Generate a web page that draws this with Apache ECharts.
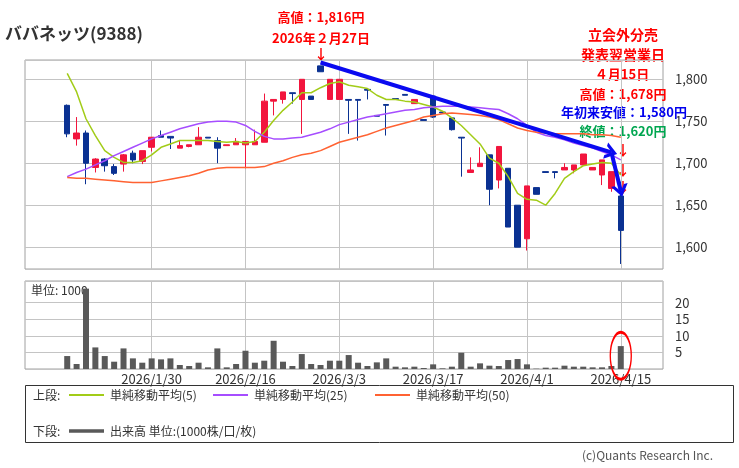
<!DOCTYPE html>
<html lang="ja">
<head>
<meta charset="utf-8">
<title>ババネッツ(9388)</title>
<script src="https://cdn.jsdelivr.net/npm/echarts@6/dist/echarts.min.js"></script>
<style>
  html, body { margin: 0; padding: 0; background: #fff; }
  #chart { width: 739px; height: 468px; }
</style>
</head>
<body>
<div id="chart"></div>
<script>
// 営業日
const dates = [
  '2026/1/19', '2026/1/20', '2026/1/21', '2026/1/22', '2026/1/23', '2026/1/26', '2026/1/27', '2026/1/28', '2026/1/29', '2026/1/30',
  '2026/2/2', '2026/2/3', '2026/2/4', '2026/2/5', '2026/2/6', '2026/2/9', '2026/2/10', '2026/2/12', '2026/2/13', '2026/2/16',
  '2026/2/17', '2026/2/18', '2026/2/19', '2026/2/20', '2026/2/24', '2026/2/25', '2026/2/26', '2026/2/27', '2026/3/2', '2026/3/3',
  '2026/3/4', '2026/3/5', '2026/3/6', '2026/3/9', '2026/3/10', '2026/3/11', '2026/3/12', '2026/3/13', '2026/3/16', '2026/3/17',
  '2026/3/18', '2026/3/19', '2026/3/23', '2026/3/24', '2026/3/25', '2026/3/26', '2026/3/27', '2026/3/30', '2026/3/31', '2026/4/1',
  '2026/4/2', '2026/4/3', '2026/4/6', '2026/4/7', '2026/4/8', '2026/4/9', '2026/4/10', '2026/4/13', '2026/4/14', '2026/4/15'
]
// 左右の空き（データなし）
const padBefore = ['2026/1/13', '2026/1/14', '2026/1/15', '2026/1/16']
const padAfter = ['2026/4/16', '2026/4/17', '2026/4/20', '2026/4/21']

// 四本値 [始値, 終値, 安値, 高値]
const ohlc = [
  [1769, 1735, 1731, 1770], [1729, 1736, 1721, 1755], [1736, 1700, 1675, 1739], [1695, 1705, 1689, 1706], [1705, 1697, 1690, 1706],
  [1696, 1688, 1686, 1699], [1699, 1710, 1690, 1711], [1712, 1704, 1700, 1715], [1702, 1715, 1699, 1715], [1719, 1731, 1714, 1731],
  [1733, 1731, 1731, 1739], [1732, 1730, 1717, 1732], [1718, 1721, 1718, 1727], [1720, 1722, 1719, 1722], [1722, 1731, 1722, 1743],
  [1731, 1730, 1730, 1731], [1727, 1718, 1700, 1731], [1721, 1722, 1721, 1722], [1722, 1726, 1722, 1730], [1722, 1726, 1694, 1726],
  [1722, 1726, 1722, 1740], [1725, 1774, 1725, 1783], [1774, 1776, 1757, 1776], [1776, 1785, 1771, 1785], [1784, 1783, 1771, 1784],
  [1776, 1800, 1735, 1800], [1780, 1776, 1776, 1780], [1816, 1809, 1809, 1816], [1776, 1800, 1776, 1800], [1776, 1800, 1776, 1800],
  [1776, 1775, 1735, 1776], [1776, 1775, 1727, 1776], [1788, 1787, 1776, 1788], [1757, 1756, 1756, 1757], [1770, 1769, 1733, 1770],
  [1777, 1776, 1776, 1777], [1782, 1781, 1781, 1782], [1771, 1776, 1771, 1776], [1752, 1751, 1751, 1752], [1780, 1755, 1754, 1780],
  [1761, 1760, 1760, 1761], [1754, 1740, 1739, 1755], [1731, 1730, 1684, 1731], [1689, 1692, 1689, 1707], [1696, 1700, 1696, 1719],
  [1710, 1669, 1650, 1710], [1680, 1720, 1670, 1720], [1694, 1624, 1624, 1694], [1650, 1600, 1600, 1650], [1610, 1673, 1596, 1673],
  [1671, 1663, 1663, 1671], [1690, 1689, 1689, 1690], [1690, 1689, 1682, 1690], [1692, 1695, 1692, 1700], [1692, 1698, 1688, 1698],
  [1698, 1711, 1698, 1711], [1692, 1695, 1692, 1695], [1686, 1704, 1674, 1704], [1670, 1690, 1666, 1690], [1661, 1620, 1580, 1678]
]

// 単純移動平均
const sma5 = [
  1807, 1785, 1753, 1733, 1715, 1707, 1701, 1701, 1703, 1710,
  1719, 1723, 1727, 1727, 1727, 1727, 1726, 1725, 1726, 1724,
  1726, 1737, 1751, 1763, 1773, 1784, 1784, 1790, 1795, 1797,
  1793, 1791, 1789, 1781, 1776, 1776, 1774, 1773, 1770, 1767,
  1762, 1754, 1745, 1734, 1723, 1706, 1700, 1684, 1664, 1657,
  1656, 1650, 1664, 1682, 1690, 1697, 1699, 1701, 1700, 1686
]
const sma25 = [
  1684, 1689, 1693, 1698, 1703, 1709, 1714, 1719, 1724, 1729,
  1733, 1737, 1741, 1744, 1747, 1749, 1750, 1750, 1749, 1745,
  1738, 1732, 1729, 1729, 1730, 1731, 1734, 1737, 1741, 1746,
  1749, 1752, 1755, 1757, 1759, 1761, 1763, 1764, 1766, 1767,
  1768, 1768, 1768, 1767, 1766, 1765, 1764, 1759, 1753, 1745,
  1737, 1733, 1731, 1728, 1724, 1721, 1718, 1714, 1710, 1704
]
const sma50 = [
  1683, 1682, 1682, 1681, 1680, 1679, 1678, 1677, 1677, 1677,
  1679, 1681, 1683, 1685, 1688, 1692, 1694, 1695, 1695, 1695,
  1695, 1696, 1700, 1703, 1707, 1710, 1712, 1715, 1720, 1725,
  1728, 1731, 1734, 1738, 1742, 1745, 1748, 1751, 1755, 1757,
  1759, 1760, 1759, 1758, 1757, 1755, 1752, 1747, 1742, 1739,
  1737, 1736, 1735, 1735, 1735, 1735, 1734, 1734, 1733, 1731
]

// 出来高（1000株）
const volume = [
  3.9, 1.5, 24.2, 6.5, 3.9, 2.2, 6.2, 3.2, 1.9, 3.2,
  2.9, 3.2, 1.2, 0.9, 1.9, 0.5, 6.2, 0.5, 1.5, 5.5,
  1.9, 2.5, 8.5, 2.2, 0.9, 4.5, 1.5, 1.2, 2.5, 2.5,
  4.2, 1.9, 0.9, 2.0, 3.2, 0.7, 0.5, 0.7, 0.3, 1.4,
  0.2, 0.7, 4.9, 0.7, 1.7, 1.0, 0.9, 2.7, 3.0, 1.4,
  0.1, 0.4, 0.4, 1.0, 0.7, 0.7, 0.5, 0.5, 0.9, 6.9
]

// 日付目盛り
const dateLabels = ['2026/1/30', '2026/2/16', '2026/3/3', '2026/3/17', '2026/4/1', '2026/4/15']

const categories = [...padBefore, ...dates, ...padAfter]
const FONT = '"Noto Sans CJK JP", "Noto Sans", sans-serif'
const UP = '#f2153d'
const DOWN = '#0a3192'
const GRID_LINE = '#c4c4c4'

const pair = arr => arr.map((v, i) => [dates[i], v])

// 縦の目盛り線（日付の位置）
const dateGridLines = {
  silent: true,
  z: 1,
  symbol: ['none', 'none'],
  label: {show: false},
  lineStyle: {color: GRID_LINE, width: 1, type: 'solid'},
  data: dateLabels.map(d => ({xAxis: d}))
}

const smaSeries = (name, data, color, extra) => Object.assign({
  name,
  type: 'line',
  xAxisIndex: 0,
  yAxisIndex: 0,
  data: pair(data),
  color,
  symbol: 'none',
  lineStyle: {color, width: 1.5},
  z: 3
}, extra || {})

const chart = echarts.init(document.getElementById('chart'))

const noteText = (text, x, y, color, size) => ({
  type: 'text',
  x, y,
  silent: true,
  style: {
    text,
    fill: color,
    font: `bold ${size || 13}px ${FONT}`,
    align: 'center',
    verticalAlign: 'middle'
  }
})

const plainText = (text, x, y, opts) => ({
  type: 'text',
  x, y,
  silent: true,
  style: Object.assign({
    text,
    fill: '#333',
    font: `12px ${FONT}`,
    align: 'left',
    verticalAlign: 'middle'
  }, opts || {})
})

const legendItem = (name, left, top, extra) => Object.assign({
  left, top,
  padding: 0,
  data: [name],
  icon: 'rect',
  itemWidth: 35,
  itemHeight: 2,
  itemGap: 5,
  selectedMode: false,
  textStyle: {fontFamily: FONT, fontSize: 12, color: '#333', padding: [0, 0, 0, 1]}
}, extra || {})

chart.setOption({
  animation: false,
  textStyle: {fontFamily: FONT},
  grid: [
    {left: 25, right: 76, top: 60, height: 209, show: true, borderColor: '#a0a0a0', borderWidth: 1},
    {left: 25, right: 76, top: 281, height: 88, show: true, borderColor: '#a0a0a0', borderWidth: 1}
  ],
  xAxis: [
    {
      type: 'category', gridIndex: 0, data: categories, boundaryGap: true,
      axisLine: {show: false}, axisTick: {show: false}, axisLabel: {show: false}, splitLine: {show: false}
    },
    {
      type: 'category', gridIndex: 1, data: categories, boundaryGap: true,
      axisLine: {show: false}, axisTick: {show: false}, splitLine: {show: false},
      axisLabel: {
        interval: (i, v) => dateLabels.includes(v),
        margin: 4,
        fontSize: 13,
        color: '#333',
        fontFamily: FONT
      }
    }
  ],
  yAxis: [
    {
      type: 'value', gridIndex: 0, position: 'right', min: 1574, max: 1823, splitNumber: 5,
      axisLine: {show: false}, axisTick: {show: false},
      splitLine: {lineStyle: {color: GRID_LINE}},
      axisLabel: {
        showMinLabel: false, showMaxLabel: false, margin: 12, fontSize: 13, color: '#333', fontFamily: FONT,
        formatter: v => v.toLocaleString('en-US')
      }
    },
    {
      type: 'value', gridIndex: 1, position: 'right', min: 0, max: 26.5, interval: 5,
      axisLine: {show: false}, axisTick: {show: false},
      // 25 の線は描かない
      splitLine: {lineStyle: {color: [GRID_LINE, GRID_LINE, GRID_LINE, GRID_LINE, GRID_LINE, 'rgba(0,0,0,0)', GRID_LINE]}},
      axisLabel: {
        margin: 12, fontSize: 13, color: '#333', fontFamily: FONT,
        formatter: v => (v > 0 && v <= 20 ? String(v) : '')
      }
    }
  ],
  legend: [
    legendItem('単純移動平均(5)', 69, 389),
    legendItem('単純移動平均(25)', 213, 389),
    legendItem('単純移動平均(50)', 375, 389),
    legendItem('出来高 単位:(1000株/口/枚)', 69, 425, {itemHeight: 3.5})
  ],
  series: [
    {
      name: 'ババネッツ(9388)',
      type: 'candlestick',
      xAxisIndex: 0,
      yAxisIndex: 0,
      data: ohlc.map((v, i) => [dates[i], ...v]),
      encode: {x: 0, y: [1, 2, 3, 4]},
      barWidth: 6,
      z: 2,
      itemStyle: {color: UP, color0: DOWN, borderColor: UP, borderColor0: DOWN, borderWidth: 1},
      // 青い矢印
      markLine: {
        silent: true,
        z: 6,
        symbol: ['none', 'path://M0,12 L10,0 L20,12 L15.5,12 L10,5.5 L4.5,12 Z'],
        symbolSize: [17, 12],
        label: {show: false},
        lineStyle: {color: '#0a0af0', width: 4, type: 'solid'},
        data: [
          [{coord: ['2026/2/27', 1820]}, {coord: ['2026/4/14', 1713]}],
          [{coord: ['2026/4/14', 1713]}, {coord: ['2026/4/15', 1667]}]
        ]
      }
    },
    smaSeries('単純移動平均(5)', sma5, '#a2cc18', {markLine: dateGridLines}),
    smaSeries('単純移動平均(25)', sma25, '#a64dff'),
    smaSeries('単純移動平均(50)', sma50, '#ff6232'),
    {
      name: '出来高 単位:(1000株/口/枚)',
      type: 'bar',
      xAxisIndex: 1,
      yAxisIndex: 1,
      data: pair(volume),
      color: '#595959',
      barWidth: 6,
      z: 2,
      markLine: dateGridLines,
      // 4/15 の出来高を囲む赤い楕円
      markPoint: {
        silent: true,
        z: 6,
        symbol: 'circle',
        symbolSize: [21, 47],
        label: {show: false},
        itemStyle: {color: 'rgba(0,0,0,0)', borderColor: '#ff0000', borderWidth: 2},
        data: [{coord: ['2026/4/15', 4.0]}]
      }
    }
  ],
  graphic: [
    plainText('ババネッツ(9388)', 5, 34, {font: `bold 17px ${FONT}`, fill: '#333'}),
    noteText('高値：1,816円', 321, 17, '#ff0000'),
    noteText('2026年２月27日', 321, 38, '#ff0000'),
    noteText('↓', 321, 54, '#ff0000', 14),
    noteText('立会外分売', 623, 35, '#ff0000', 14),
    noteText('発表翌営業日', 623, 55, '#ff0000', 14),
    noteText('４月15日', 622, 74, '#ff0000'),
    noteText('高値：1,678円', 623, 94, '#ff0000'),
    noteText('年初来安値：1,580円', 624, 112, '#0000ee'),
    noteText('終値：1,620円', 623, 131, '#00a650'),
    noteText('↓', 623, 150, '#ff0000', 14),
    noteText('↓', 623, 170, '#ff0000', 14),
    noteText('↓', 623, 187, '#ff0000', 14),
    plainText('単位: 1000', 31, 290),
    {
      type: 'rect',
      silent: true,
      shape: {x: 25.5, y: 385.5, width: 708, height: 57},
      style: {fill: 'none', stroke: '#333', lineWidth: 1}
    },
    plainText('上段:', 33, 395),
    plainText('下段:', 33, 431),
    plainText('(c)Quants Research Inc.', 713, 455, {align: 'right', fill: '#555'})
  ]
})
</script>
</body>
</html>
